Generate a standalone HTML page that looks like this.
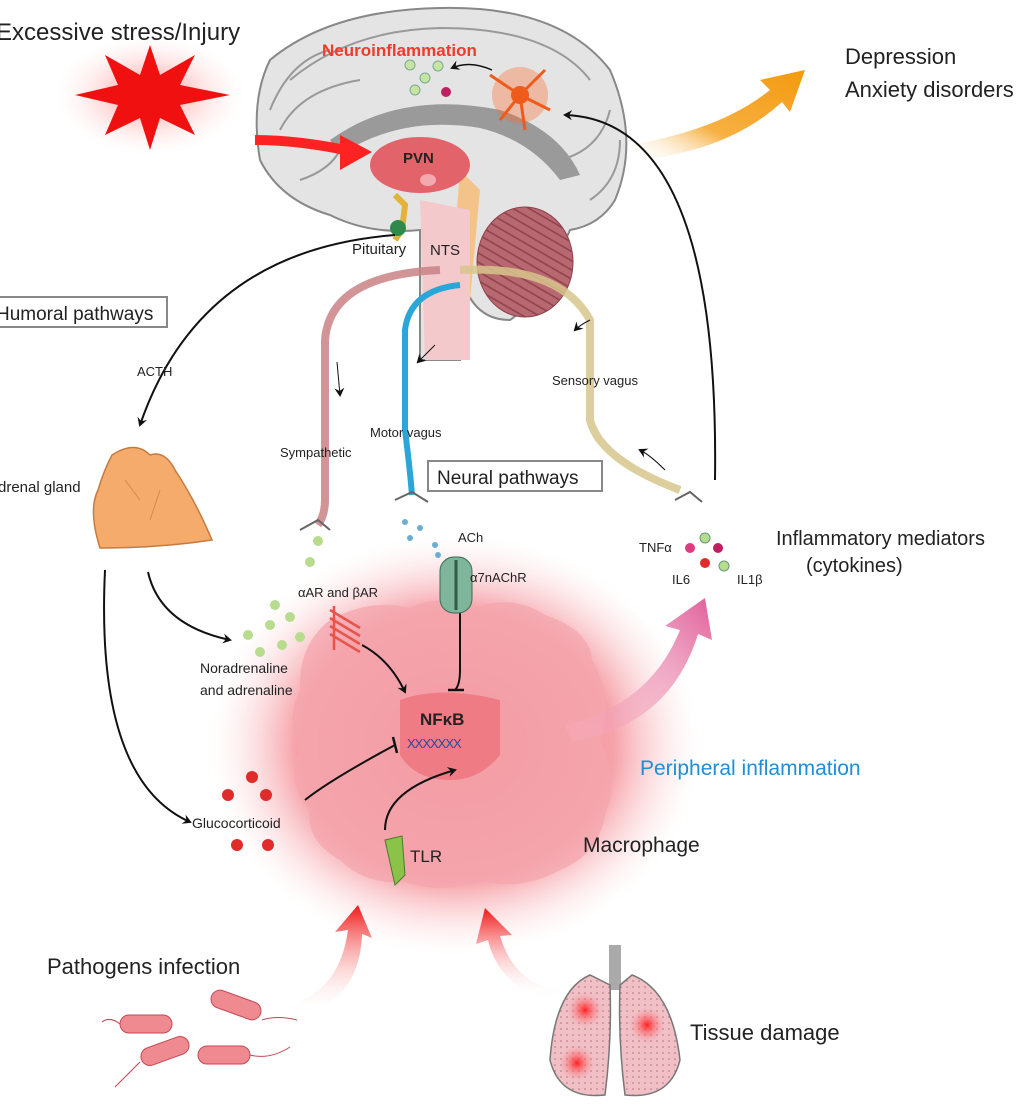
<!DOCTYPE html>
<html><head><meta charset="utf-8"><style>
html,body{margin:0;padding:0;background:#fff}
svg{display:block}
text{font-family:"Liberation Sans",Arial,sans-serif;fill:#222}
</style></head><body>
<svg width="1024" height="1110" viewBox="0 0 1024 1110" xmlns="http://www.w3.org/2000/svg">
<defs>
<radialGradient id="glow" cx="50%" cy="50%" r="50%">
<stop offset="0" stop-color="#f27a84" stop-opacity="1"/>
<stop offset="0.65" stop-color="#f4929a" stop-opacity="0.85"/>
<stop offset="1" stop-color="#fde4e6" stop-opacity="0"/>
</radialGradient>
<radialGradient id="star" cx="50%" cy="50%" r="50%">
<stop offset="0" stop-color="#ff3a3a" stop-opacity="0.6"/>
<stop offset="1" stop-color="#ffdada" stop-opacity="0"/>
</radialGradient>
<radialGradient id="spot" cx="50%" cy="50%" r="50%">
<stop offset="0" stop-color="#ff2020"/>
<stop offset="1" stop-color="#f8a0a8" stop-opacity="0"/>
</radialGradient>
<linearGradient id="orange" x1="0" y1="1" x2="1" y2="0">
<stop offset="0" stop-color="#fff" stop-opacity="0"/>
<stop offset="0.4" stop-color="#f7b042"/>
<stop offset="1" stop-color="#f39a0f"/>
</linearGradient>
<linearGradient id="pinkarr" x1="0" y1="1" x2="1" y2="0">
<stop offset="0" stop-color="#f6b6c8" stop-opacity="0.2"/>
<stop offset="1" stop-color="#e0609a"/>
</linearGradient>
<linearGradient id="redarr" x1="0" y1="1" x2="0" y2="0">
<stop offset="0" stop-color="#fff" stop-opacity="0"/>
<stop offset="1" stop-color="#f01818"/>
</linearGradient>
<pattern id="cereb" width="8" height="8" patternUnits="userSpaceOnUse" patternTransform="rotate(30)">
<rect width="8" height="8" fill="#b86870"/><path d="M0,4 H8" stroke="#8e4048" stroke-width="1.5"/>
</pattern>
<pattern id="lungp" width="6" height="6" patternUnits="userSpaceOnUse">
<rect width="6" height="6" fill="#f0c0c6"/><circle cx="3" cy="3" r="0.8" fill="#b07078"/>
</pattern>
<marker id="ah" markerWidth="10" markerHeight="10" refX="7" refY="5" orient="auto" markerUnits="userSpaceOnUse">
<path d="M0,0 L9,5 L0,10 L3,5 Z" fill="#111"/>
</marker>
</defs>

<!-- star -->
<ellipse cx="150" cy="95" rx="95" ry="60" fill="url(#star)"/>
<polygon points="150,45 160,75 195,55 180,85 230,95 180,105 195,135 160,118 150,150 140,118 105,135 118,105 75,95 118,85 105,55 140,75" fill="#f01010"/>
<text x="-4" y="40" font-size="24">Excessive stress/Injury</text>

<!-- brain -->
<path d="M270,60 Q330,10 440,8 Q560,5 610,70 Q640,140 615,200 Q600,225 570,230 Q540,300 510,320 Q470,320 460,270 L460,360 L420,360 L420,230 Q370,235 330,215 Q280,200 260,160 Q250,100 270,60 Z" fill="#e4e4e4" stroke="#888" stroke-width="2"/>
<path d="M290,80 Q350,30 440,28 Q550,28 590,80 M280,130 Q300,90 360,80 M560,160 Q600,150 610,110 M300,180 Q330,170 340,150 M270,110 Q290,60 330,50 M590,200 Q620,180 620,140" fill="none" stroke="#999" stroke-width="2"/>
<path d="M330,140 Q400,90 500,110 Q560,130 580,175 L560,180 Q530,140 480,128 Q400,115 340,155 Z" fill="#9a9a9a"/>
<ellipse cx="525" cy="262" rx="48" ry="55" fill="url(#cereb)" stroke="#8e4048"/>
<path d="M460,170 L480,190 L470,300 L450,300 Z" fill="#f4c38a"/>
<path d="M420,200 L470,210 L470,360 L425,360 Z" fill="#f3c9cc"/>
<ellipse cx="420" cy="165" rx="50" ry="28" fill="#e3636b"/>
<text x="403" y="163" font-size="15" font-weight="bold">PVN</text>
<ellipse cx="428" cy="180" rx="8" ry="6" fill="#f4a9ae"/>
<path d="M395,195 L405,205 L402,230 L395,240" stroke="#e2b338" stroke-width="6" fill="none"/>
<circle cx="398" cy="228" r="8" fill="#2e8a4a"/>
<path d="M255,140 Q300,140 355,152" stroke="#f22" stroke-width="10" fill="none"/>
<polygon points="340,135 372,152 340,170" fill="#f22"/>
<!-- neuron -->
<circle cx="520" cy="95" r="28" fill="#ff6a2a" opacity="0.35"/>
<circle cx="520" cy="95" r="9" fill="#f05a1a"/>
<path d="M520,95 L490,75 M520,95 L545,70 M520,95 L550,110 M520,95 L500,120 M520,95 L525,130" stroke="#f05a1a" stroke-width="3"/>
<text x="322" y="56" font-size="17" font-weight="bold" style="fill:#f23a2a">Neuroinflammation</text>
<g fill="#c8e5a0" stroke="#7a9"><circle cx="410" cy="65" r="5"/><circle cx="425" cy="78" r="5"/><circle cx="438" cy="66" r="5"/><circle cx="415" cy="90" r="5"/></g>
<circle cx="446" cy="92" r="5" fill="#c02060"/>
<path d="M492,70 Q470,60 452,68" fill="none" stroke="#111" stroke-width="1.5" marker-end="url(#ah)"/>
<text x="352" y="254" font-size="15">Pituitary</text>
<text x="430" y="255" font-size="15">NTS</text>

<!-- orange arrow -->
<path d="M630,145 Q720,130 770,90 L760,80 L805,70 L790,112 L782,102 Q730,150 640,160 Z" fill="url(#orange)"/>
<text x="845" y="64" font-size="22">Depression</text>
<text x="845" y="97" font-size="22">Anxiety disorders</text>

<!-- nerves -->
<path d="M440,270 Q330,275 325,340 L325,500 Q325,515 318,525" stroke="#c98286" stroke-width="8" fill="none" opacity="0.85"/>
<path d="M460,285 Q410,290 405,330 L405,430 Q410,470 412,495" stroke="#2aa6d8" stroke-width="6" fill="none"/>
<path d="M460,270 Q560,265 590,320 L590,420 Q600,460 680,490" stroke="#d7c68c" stroke-width="8" fill="none" opacity="0.85"/>
<path d="M300,530 L318,520 L330,530 M395,500 L412,492 L428,502 M675,500 L690,492 L702,502" stroke="#666" stroke-width="2" fill="none"/>
<text x="280" y="457" font-size="13">Sympathetic</text>
<text x="370" y="437" font-size="13">Motor vagus</text>
<text x="552" y="385" font-size="13">Sensory vagus</text>
<path d="M337,362 L340,395" stroke="#111" marker-end="url(#ah)"/>
<path d="M435,345 Q425,355 418,362" stroke="#111" fill="none" marker-end="url(#ah)"/>
<path d="M590,320 Q580,325 575,330" stroke="#111" fill="none" marker-end="url(#ah)"/>
<path d="M665,470 Q650,455 640,450" stroke="#111" fill="none" marker-end="url(#ah)"/>
<rect x="428" y="461" width="174" height="30" fill="#fff" stroke="#888" stroke-width="2"/>
<text x="437" y="484" font-size="19">Neural pathways</text>
<rect x="-5" y="297" width="172" height="30" fill="#fff" stroke="#888" stroke-width="2"/>
<text x="-4" y="320" font-size="19">Humoral pathways</text>

<!-- humoral arrows -->
<path d="M395,235 Q200,250 140,425" stroke="#111" stroke-width="2" fill="none" marker-end="url(#ah)"/>
<text x="137" y="376" font-size="13">ACTH</text>
<path d="M715,480 Q720,120 565,115" stroke="#111" stroke-width="2" fill="none" marker-end="url(#ah)"/>

<!-- adrenal -->
<path d="M112,455 Q135,440 150,455 Q165,450 175,470 Q195,500 212,540 Q160,548 100,548 Q88,510 98,490 Q104,470 112,455 Z" fill="#f5ab6b" stroke="#c77a3d" stroke-width="1.5"/>
<path d="M125,480 L140,500 M160,490 L150,520" stroke="#d08a50" fill="none"/>
<text x="-2" y="492" font-size="15">drenal gland</text>
<path d="M148,572 Q160,625 230,640" stroke="#111" stroke-width="2" fill="none" marker-end="url(#ah)"/>
<path d="M105,570 Q95,780 190,822" stroke="#111" stroke-width="2" fill="none" marker-end="url(#ah)"/>

<!-- macrophage -->
<ellipse cx="455" cy="745" rx="245" ry="210" fill="url(#glow)"/>
<path d="M330,620 Q370,598 410,608 Q440,592 470,610 Q510,592 545,615 Q590,630 592,660 Q615,700 600,740 Q620,780 605,815 Q598,855 560,870 Q520,892 480,880 Q440,895 405,882 Q365,885 340,860 Q305,840 310,810 Q285,780 300,750 Q285,720 300,690 Q298,645 330,620 Z" fill="#f4a6ad" opacity="0.75"/>
<path d="M400,700 Q440,685 500,700 L500,755 Q480,780 450,780 Q415,780 400,755 Z" fill="#ef7c85"/>
<text x="420" y="725" font-size="17" font-weight="bold">NFκB</text>
<text x="407" y="748" font-size="13" style="fill:#2a4a9a" letter-spacing="-1">XXXXXXX</text>
<text x="583" y="852" font-size="21">Macrophage</text>
<text x="640" y="775" font-size="21" style="fill:#1e8fd6">Peripheral inflammation</text>
<text x="410" y="862" font-size="17">TLR</text>
<path d="M385,840 L402,836 L405,875 L395,885 Z" fill="#8bc34a" stroke="#4a7a2a"/>
<path d="M385,830 Q385,790 455,770" stroke="#111" stroke-width="2" fill="none" marker-end="url(#ah)"/>
<path d="M305,800 Q330,780 395,745" stroke="#111" stroke-width="2" fill="none"/>
<path d="M393,737 L397,753" stroke="#111" stroke-width="2.5"/>
<path d="M362,645 Q390,660 405,692" stroke="#111" stroke-width="2" fill="none" marker-end="url(#ah)"/>
<path d="M460,612 L460,670 Q460,685 455,690" stroke="#111" stroke-width="2" fill="none"/>
<path d="M448,690 L464,690" stroke="#111" stroke-width="2.5"/>
<!-- receptors -->
<rect x="440" y="557" width="32" height="56" rx="14" fill="#7fb59a" stroke="#3b6b56"/>
<path d="M456,560 L456,610" stroke="#2f5c48" stroke-width="3"/>
<g stroke="#e8544b" stroke-width="2.5" fill="none"><path d="M330,610 l30,18 M330,618 l30,18 M330,626 l30,18 M330,634 l30,18 M334,606 l0,44"/></g>
<text x="298" y="597" font-size="13">αAR and βAR</text>
<text x="470" y="582" font-size="13">α7nAChR</text>
<text x="458" y="542" font-size="13">ACh</text>
<g fill="#6aaed0"><circle cx="405" cy="522" r="3"/><circle cx="420" cy="528" r="3"/><circle cx="410" cy="538" r="3"/><circle cx="435" cy="545" r="3"/><circle cx="438" cy="555" r="3"/></g>
<g fill="#b7dc8e"><circle cx="318" cy="541" r="5"/><circle cx="310" cy="562" r="5"/><circle cx="248" cy="635" r="5"/><circle cx="270" cy="625" r="5"/><circle cx="290" cy="617" r="5"/><circle cx="260" cy="652" r="5"/><circle cx="282" cy="645" r="5"/><circle cx="300" cy="637" r="5"/><circle cx="275" cy="605" r="5"/></g>
<text x="200" y="673" font-size="14">Noradrenaline</text>
<text x="200" y="695" font-size="14">and adrenaline</text>
<g fill="#e02b2b"><circle cx="228" cy="795" r="6"/><circle cx="252" cy="777" r="6"/><circle cx="266" cy="795" r="6"/><circle cx="237" cy="845" r="6"/><circle cx="268" cy="845" r="6"/></g>
<text x="192" y="828" font-size="14">Glucocorticoid</text>

<!-- cytokines -->
<g><circle cx="705" cy="538" r="5" fill="#b7dc8e" stroke="#697"/><circle cx="718" cy="548" r="5" fill="#c02060"/><circle cx="690" cy="548" r="5" fill="#e03a80"/><circle cx="705" cy="563" r="5" fill="#e02b2b"/><circle cx="724" cy="566" r="5" fill="#b7dc8e" stroke="#697"/></g>
<text x="639" y="552" font-size="13">TNFα</text>
<text x="672" y="584" font-size="13">IL6</text>
<text x="737" y="584" font-size="13">IL1β</text>
<text x="776" y="545" font-size="20">Inflammatory mediators</text>
<text x="806" y="572" font-size="20">(cytokines)</text>
<path d="M565,725 Q650,705 680,630 L665,626 L705,598 L712,640 L698,634 Q670,725 572,742 Z" fill="url(#pinkarr)"/>

<!-- red arrows -->
<path d="M290,1005 Q340,990 348,930 L335,932 L358,905 L372,938 L362,934 Q360,1000 300,1015 Z" fill="url(#redarr)"/>
<path d="M555,1000 Q500,990 488,940 L476,944 L485,908 L512,935 L500,936 Q515,985 560,990 Z" fill="url(#redarr)"/>
<text x="47" y="974" font-size="22">Pathogens infection</text>
<text x="690" y="1040" font-size="22">Tissue damage</text>
<!-- bacteria -->
<g fill="#ef8a90" stroke="#c44a55"><rect x="210" y="996" width="52" height="18" rx="9" transform="rotate(20 236 1005)"/><rect x="120" y="1015" width="52" height="18" rx="9"/><rect x="140" y="1042" width="50" height="18" rx="9" transform="rotate(-20 165 1051)"/><rect x="198" y="1046" width="52" height="18" rx="9"/></g>
<path d="M262,1020 q15,-5 35,0 M250,1055 q20,5 40,-8 M140,1062 q-15,15 -25,25 M120,1024 q-10,-8 -18,-2" stroke="#c44a55" fill="none"/>
<!-- lungs -->
<rect x="609" y="945" width="12" height="45" fill="#aaa"/>
<path d="M590,975 Q555,990 550,1060 Q560,1100 605,1095 Q612,1040 610,985 Z" fill="url(#lungp)" stroke="#777" stroke-width="1.5"/>
<path d="M632,975 Q672,990 680,1060 Q670,1100 625,1095 Q618,1040 620,985 Z" fill="url(#lungp)" stroke="#777" stroke-width="1.5"/>
<circle cx="585" cy="1010" r="18" fill="url(#spot)"/><circle cx="647" cy="1025" r="18" fill="url(#spot)"/><circle cx="577" cy="1063" r="18" fill="url(#spot)"/>
</svg>
</body></html>
